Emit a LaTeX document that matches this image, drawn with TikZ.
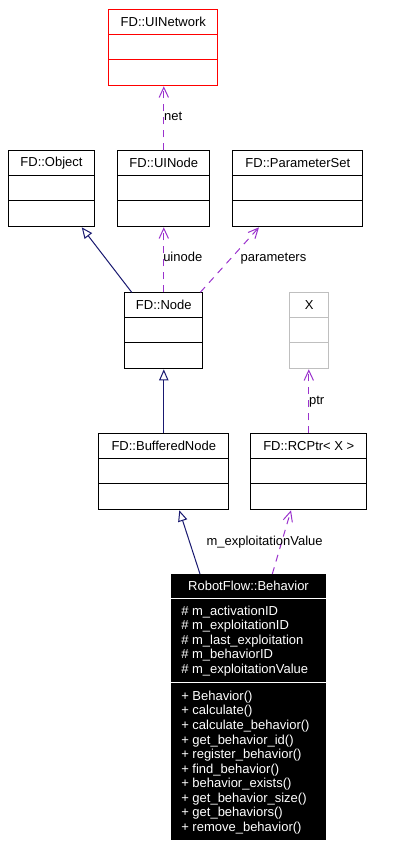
\documentclass[tikz,border=0pt]{standalone}
\usepackage{fontspec}
\setmainfont{Liberation Sans}
\usetikzlibrary{arrows.meta,calc}
\definecolor{usecol}{RGB}{154,50,205}
\definecolor{inhcol}{RGB}{25,25,112}
\definecolor{undoc}{RGB}{191,191,191}
\tikzset{
  classbox/.style={draw, line width=0.75pt, inner sep=0pt, anchor=north west, minimum height=57pt},
  usearrow/.style={usecol, line width=0.75pt, dash pattern=on 5.25pt off 4.5pt, -{Straight Barb[length=7.5pt,width=7pt]}},
  inharrow/.style={inhcol, line width=0.75pt, -{Triangle[open,length=8.25pt,width=7pt,fill=white]}},
  edgelabel/.style={anchor=base west, inner sep=0pt}
}
\begin{document}
\begin{tikzpicture}[x=0.75pt,y=0.75pt,yscale=-1,xscale=1, font=\fontsize{9.75}{11}\selectfont]
\useasboundingbox (0,0) rectangle (410,847);

% Class boxes
\node (uinet) [classbox, draw=red, minimum width=81.75pt] at (108.3,9.3) {};
\node (obj) [classbox, minimum width=64.05pt] at (8.3,150.3) {};
\node (uinode) [classbox, minimum width=69pt] at (117.3,150.3) {};
\node (pset) [classbox, minimum width=97.5pt] at (232.3,150.3) {};
\node (node) [classbox, minimum width=58.5pt] at (124.3,292.3) {};
\node (xcls) [classbox, draw=undoc, minimum width=29.25pt] at (289.3,292.3) {};
\node (bnode) [classbox, minimum width=97.5pt] at (98.3,433.3) {};
\node (rcptr) [classbox, minimum width=87pt] at (250.3,433.3) {};
\node (beh) [classbox, fill=black, minimum width=115.5pt, minimum height=199pt] at (171,574) {};

% Compartments and class names
\foreach \b/\c/\t in {uinet/red/FD::UINetwork, obj/black/FD::Object, uinode/black/FD::UINode,
    pset/black/FD::ParameterSet, node/black/FD::Node, xcls/undoc/X,
    bnode/black/FD::BufferedNode, rcptr/black/FD::RCPtr< X >}{
  \draw [\c, line width=0.75pt] ($(\b.north west)+(0,25)$) -- ($(\b.north east)+(0,25)$);
  \draw [\c, line width=0.75pt] ($(\b.north west)+(0,50.5)$) -- ($(\b.north east)+(0,50.5)$);
  \node (\b-name) at ($(\b.north)+(0,12.5)$) {\t};
}

% RobotFlow::Behavior
\draw [white, line width=0.75pt] ($(beh.north west)+(0,24.7)$) -- ($(beh.north east)+(0,24.7)$);
\draw [white, line width=0.75pt] ($(beh.north west)+(0,108)$) -- ($(beh.north east)+(0,108)$);
\node (beh-name) [white] at ($(beh.north)+(0,11.7)$) {RobotFlow::Behavior};
\foreach \a [count=\i] in {m\_activationID, m\_exploitationID, m\_last\_exploitation,
    m\_behaviorID, m\_exploitationValue}
  \node (beh-a\i) [white, anchor=base west, inner sep=0pt] at (181,{615+14.55*(\i-1)}) {\# \a};
\foreach \m [count=\i] in {Behavior(), calculate(), calculate\_behavior(), get\_behavior\_id(),
    register\_behavior(), find\_behavior(), behavior\_exists(), get\_behavior\_size(),
    get\_behaviors(), remove\_behavior()}
  \node (beh-m\i) [white, anchor=base west, inner sep=0pt] at (181,{700.4+14.55*(\i-1)}) {+ \m};

% Usage (dashed)
\draw [usearrow] (uinode.north) -- (uinode.north |- uinet.south);
\draw [usearrow] (node.north) -- (node.north |- uinode.south);
\draw [usearrow] ($(node.north east)+(-3,0)$) -- ($(pset.south west)+(26.7,0)$);
\draw [usearrow] (rcptr.north) -- (rcptr.north |- xcls.south);
\draw [usearrow] ($(beh.north west)+(101.3,0)$) -- ($(rcptr.south west)+(40.7,0)$);

% Inheritance
\draw [inharrow] ($(node.north west)+(7.4,0)$) -- ($(obj.south west)+(73.4,0)$);
\draw [inharrow] (bnode.north) -- (bnode.north |- node.south);
\draw [inharrow] ($(beh.north west)+(29,0)$) -- ($(bnode.south west)+(81,0)$);

% Edge labels
\node (net-lbl) [edgelabel] at (163.8,120.7) {net};
\node (uinode-lbl) [edgelabel] at (163,261.7) {uinode};
\node (par-lbl) [edgelabel] at (240.3,261.7) {parameters};
\node (ptr-lbl) [edgelabel] at (308.8,404) {ptr};
\node (val-lbl) [edgelabel] at (206.3,545) {m\_exploitationValue};
\end{tikzpicture}
\end{document}
